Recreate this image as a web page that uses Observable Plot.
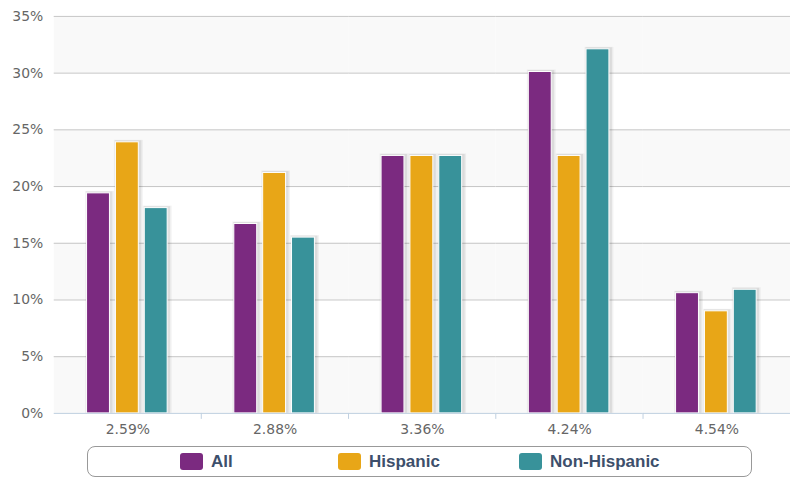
<!DOCTYPE html>
<html>
<head>
<meta charset="utf-8">
<script src="https://cdn.jsdelivr.net/npm/d3@7"></script>
<script src="https://cdn.jsdelivr.net/npm/@observablehq/plot@0.6"></script>
<style>
  html, body { margin: 0; padding: 0; background: #fff; overflow: hidden; }
  #wrap { position: relative; width: 791px; height: 478px; overflow: hidden; }
  #chart svg { display: block; }
  #legend {
    position: absolute; left: 87px; top: 446px; width: 665px; height: 31px;
    box-sizing: border-box; border: 1px solid #999; border-radius: 8px; background: #fff;
    font-family: "Liberation Sans", Arial, sans-serif; font-weight: bold; font-size: 17px; color: #3d4f6b;
  }
  .item { position: absolute; top: 0; height: 29px; display: flex; align-items: center; white-space: nowrap; }
  .sw { width: 23px; height: 17px; border-radius: 3px; margin-right: 8px; }
</style>
</head>
<body>
<div id="wrap">
  <div id="chart"></div>
  <div id="legend"></div>
</div>
<script>
const categories = ["2.59%", "2.88%", "3.36%", "4.24%", "4.54%"];
const seriesNames = ["All", "Hispanic", "Non-Hispanic"];
const allValues = [19.4, 16.7, 22.7, 30.1, 10.6];
const hispanicValues = [23.9, 21.2, 22.7, 22.7, 9.0];
const nonHispanicValues = [18.1, 15.5, 22.7, 32.1, 10.9];
const seriesColors = ["#7b2a80", "#e8a617", "#38929a"];
const yTicks = [0, 5, 10, 15, 20, 25, 30, 35];
const bandStarts = [0, 10, 20, 30];

const seriesValues = [allValues, hispanicValues, nonHispanicValues];
const data = [];
categories.forEach((c, i) => {
  seriesNames.forEach((s, j) => {
    data.push({category: c, series: s, value: seriesValues[j][i]});
  });
});

const W = 795, ML = 53, MR = 0;
const step = (W - ML - MR) / categories.length;

const chart = Plot.plot({
  width: W,
  height: 440,
  marginTop: 16,
  marginBottom: 25,
  marginLeft: ML,
  marginRight: MR,
  style: {fontFamily: "'DejaVu Sans', sans-serif", fontSize: "14px", background: "transparent"},
  fx: {domain: categories, padding: 0, label: null},
  x: {domain: seriesNames, paddingInner: 0.19, paddingOuter: 1.095, axis: null},
  y: {domain: [0, 35], label: null},
  color: {domain: seriesNames, range: seriesColors},
  marks: [
    Plot.rectY(bandStarts, {y1: d => d, y2: d => d + 5, fill: "#f9f9f9"}),
    Plot.ruleY(yTicks.slice(1), {stroke: "#c6c6c6", strokeWidth: 1}),
    Plot.barY(data, {fx: "category", x: "series", y: "value", fill: "#000", fillOpacity: 0.05,
      insetLeft: -2, insetRight: -4, insetTop: -2, dx: 0.5}),
    Plot.barY(data, {fx: "category", x: "series", y: "value", fill: "#000", fillOpacity: 0.07,
      insetLeft: -1, insetRight: -2.5, insetTop: -1.5, dx: 0.5}),
    Plot.barY(data, {fx: "category", x: "series", y: "value", fill: "series", stroke: "#fff", strokeWidth: 1}),
    Plot.ruleY([0], {stroke: "#c0d0e0", strokeWidth: 1}),
    Plot.axisY(yTicks, {tickSize: 0, tickPadding: 11, tickFormat: d => d + "%", color: "#666", fontSize: 14, label: null}),
    Plot.axisFx({anchor: "bottom", tickSize: 0, tickPadding: 11, color: "#666", fontSize: 14, label: null}),
    Plot.axisFx({anchor: "bottom", tickSize: 6, tickFormat: () => "", dx: -step / 2, color: "#c0d0e0", label: null,
      filter: d => d !== categories[0]})
  ]
});
document.getElementById("chart").appendChild(chart);

const legend = document.getElementById("legend");
const itemLefts = [92, 250, 431];
seriesNames.forEach((s, j) => {
  const it = document.createElement("div");
  it.className = "item";
  it.style.left = itemLefts[j] + "px";
  const sw = document.createElement("div");
  sw.className = "sw";
  sw.style.background = seriesColors[j];
  const tx = document.createElement("span");
  tx.textContent = s;
  it.appendChild(sw);
  it.appendChild(tx);
  legend.appendChild(it);
});
</script>
</body>
</html>
